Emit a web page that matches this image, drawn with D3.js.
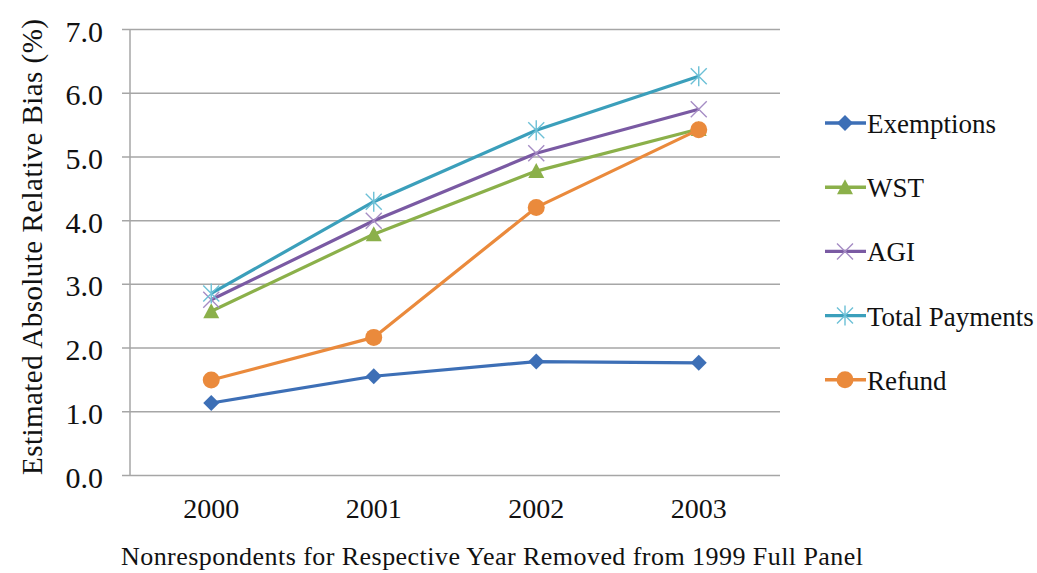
<!DOCTYPE html>
<html>
<head>
<meta charset="utf-8">
<script src="https://cdn.jsdelivr.net/npm/d3@7"></script>
<style>
  body { margin: 0; background: #fff; }
</style>
</head>
<body>
<svg id="chart" width="1037" height="573" font-family="Liberation Serif"></svg>
<script>
var years = ['2000', '2001', '2002', '2003'];
var yTicks = [0, 1, 2, 3, 4, 5, 6, 7];

var exemptions = [1.13, 1.55, 1.78, 1.76];
var wst = [2.57, 3.78, 4.77, 5.43];
var agi = [2.75, 3.99, 5.05, 5.74];
var totalPayments = [2.85, 4.29, 5.41, 6.26];
var refund = [1.49, 2.16, 4.20, 5.42];

var seriesNames = ['Exemptions', 'WST', 'AGI', 'Total Payments', 'Refund'];
var seriesColors = ['#3d6fb6', '#8bb04a', '#7a5aa3', '#3b9fbb', '#ea8a3c'];
var seriesMarkers = ['diamond', 'triangle', 'x', 'star', 'circle'];

(function () {
  var FONT = 'Liberation Serif';
  var svg = d3.select('#chart');
  var margin = { top: 29, right: 257, bottom: 98, left: 130 };
  var width = 1037 - margin.left - margin.right;
  var height = 573 - margin.top - margin.bottom;

  var series = [exemptions, wst, agi, totalPayments, refund].map(function (vals, i) {
    return { name: seriesNames[i], color: seriesColors[i], marker: seriesMarkers[i], values: vals };
  });

  var x = d3.scaleBand().domain(years).range([0, width]);
  var y = d3.scaleLinear().domain([0, 7]).range([height, 0]);

  var g = svg.append('g').attr('transform', 'translate(' + margin.left + ',' + margin.top + ')');

  // gridlines + y labels
  var yAxis = d3.axisLeft(y).tickValues(yTicks).tickSize(-width).tickPadding(27)
      .tickFormat(d3.format('.1f'));
  var yg = g.append('g').call(yAxis).attr('font-family', FONT);
  yg.select('.domain').remove();
  yg.selectAll('.tick line').attr('x1', -8).attr('stroke', '#a6a6a6').attr('stroke-width', 1.5);
  yg.selectAll('.tick text').attr('font-size', 30).attr('fill', '#111')
      .attr('dy', null).attr('y', 12);

  g.append('line')
      .attr('x1', 0).attr('x2', 0).attr('y1', 0).attr('y2', height)
      .attr('stroke', '#a6a6a6').attr('stroke-width', 1.5);

  var xAxis = d3.axisBottom(x).tickSize(0);
  var xg = g.append('g').attr('transform', 'translate(0,' + height + ')').call(xAxis)
      .attr('font-family', FONT);
  xg.select('.domain').remove();
  xg.selectAll('.tick text').attr('font-size', 28).attr('fill', '#111')
      .attr('dy', null).attr('y', 43);

  var cx = function (i) { return x(years[i]) + x.bandwidth() / 2; };
  var line = d3.line().x(function (d, i) { return cx(i); }).y(function (d) { return y(d); });

  var drawMarker = function (sel, s, px, py) {
    var m = sel.append('g').attr('transform', 'translate(' + px + ',' + py + ')');
    if (s.marker === 'diamond') {
      m.append('path').attr('d', 'M0,-8L8,0L0,8L-8,0Z').attr('fill', s.color);
    } else if (s.marker === 'triangle') {
      m.append('path').attr('d', 'M0,-8L8,7L-8,7Z').attr('fill', s.color);
    } else if (s.marker === 'circle') {
      m.append('circle').attr('r', 8.5).attr('fill', s.color);
    } else if (s.marker === 'x') {
      m.append('path').attr('d', 'M-8,-8L8,8M-8,8L8,-8')
          .attr('stroke', '#a58cc4').attr('stroke-width', 1.4).attr('fill', 'none');
    } else if (s.marker === 'star') {
      m.append('path').attr('d', 'M-8,-8L8,8M-8,8L8,-8M0,-10L0,10')
          .attr('stroke', '#6cc0d6').attr('stroke-width', 1.4).attr('fill', 'none');
    }
  };

  series.forEach(function (s) {
    g.append('path').datum(s.values)
        .attr('d', line)
        .attr('fill', 'none')
        .attr('stroke', s.color)
        .attr('stroke-width', 3.2)
        .attr('stroke-linejoin', 'round');
    s.values.forEach(function (v, i) {
      drawMarker(g, s, cx(i), y(v));
    });
  });

  // legend
  var legend = svg.append('g').attr('transform', 'translate(825,123)');
  series.forEach(function (s, i) {
    var row = legend.append('g').attr('transform', 'translate(0,' + (i * 64.2) + ')');
    row.append('line').attr('x1', 0).attr('x2', 41).attr('y1', 0).attr('y2', 0)
        .attr('stroke', s.color).attr('stroke-width', 3.4);
    drawMarker(row, s, 20, 0);
    row.append('text').attr('x', 42).attr('y', 10).attr('font-size', 27)
        .attr('font-family', FONT).attr('fill', '#111').text(s.name);
  });

  // axis titles
  svg.append('text')
      .attr('transform', 'translate(42,247) rotate(-90)')
      .attr('text-anchor', 'middle')
      .attr('font-size', 29)
      .attr('font-family', FONT)
      .attr('fill', '#111')
      .attr('textLength', 456)
      .attr('lengthAdjust', 'spacing')
      .text('Estimated Absolute Relative Bias (%)');

  svg.append('text')
      .attr('x', 492).attr('y', 565)
      .attr('text-anchor', 'middle')
      .attr('font-size', 26)
      .attr('font-family', FONT)
      .attr('fill', '#111')
      .attr('textLength', 742)
      .attr('lengthAdjust', 'spacing')
      .text('Nonrespondents for Respective Year Removed from 1999 Full Panel');
})();
</script>
</body>
</html>
